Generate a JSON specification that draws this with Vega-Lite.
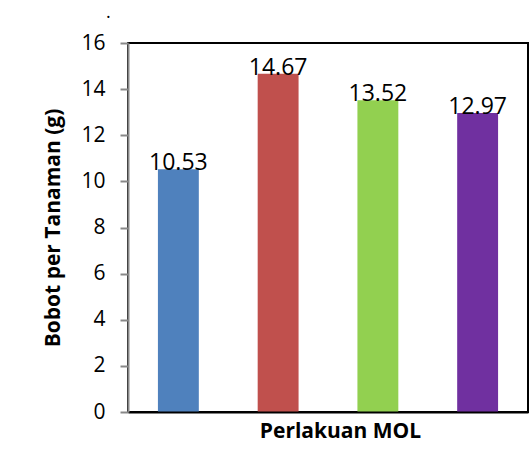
{
  "$schema": "https://vega.github.io/schema/vega-lite/v6.json",
  "width": 400,
  "height": 369,
  "autosize": {"type": "none"},
  "padding": {"left": 128, "top": 43, "right": 2, "bottom": 63},
  "background": "white",
  "title": {"text": ".", "anchor": "start", "frame": "group", "dx": -22, "offset": 10, "fontSize": 18, "font": "Open Sans", "fontWeight": "normal", "color": "black"},
  "config": {
    "font": "Open Sans",
    "view": {"stroke": "black", "strokeWidth": 2}
  },
  "data": {
    "values": [
      {"perlakuan": "P1", "bobot": 10.53},
      {"perlakuan": "P2", "bobot": 14.67},
      {"perlakuan": "P3", "bobot": 13.52},
      {"perlakuan": "P4", "bobot": 12.97}
    ]
  },
  "encoding": {
    "x": {
      "field": "perlakuan",
      "type": "nominal",
      "sort": null,
      "scale": {"paddingInner": 0.59, "paddingOuter": 0.3},
      "axis": {
        "title": "Perlakuan MOL",
        "titleFontSize": 21,
        "titleFontWeight": "bold",
        "titleColor": "black",
        "titlePadding": 8,
        "titleX": 212,
        "labels": false,
        "ticks": false,
        "domain": true,
        "domainColor": "black",
        "domainWidth": 2,
        "zindex": 1
      }
    },
    "y": {
      "field": "bobot",
      "type": "quantitative",
      "scale": {"domain": [0, 16], "nice": false},
      "axis": {
        "title": "Bobot per Tanaman (g)",
        "titleFontSize": 21,
        "titleFontWeight": "bold",
        "titleColor": "black",
        "titlePadding": 17,
        "values": [0, 2, 4, 6, 8, 10, 12, 14, 16],
        "labelFontSize": 21,
        "labelColor": "black",
        "labelPadding": 15,
        "tickColor": "#888888",
        "tickWidth": 2,
        "tickSize": 8,
        "domainColor": "#888888",
        "domainWidth": 2,
        "grid": false,
        "zindex": 1
      }
    }
  },
  "layer": [
    {
      "mark": {"type": "bar"},
      "encoding": {
        "color": {
          "field": "perlakuan",
          "type": "nominal",
          "sort": null,
          "scale": {"range": ["#4F81BD", "#C0504D", "#92D050", "#7030A0"]},
          "legend": null
        }
      }
    },
    {
      "mark": {"type": "text", "baseline": "alphabetic", "align": "center", "fontSize": 23, "color": "black", "dy": 1},
      "encoding": {
        "text": {"field": "bobot", "type": "quantitative", "format": ".2f"}
      }
    }
  ]
}
